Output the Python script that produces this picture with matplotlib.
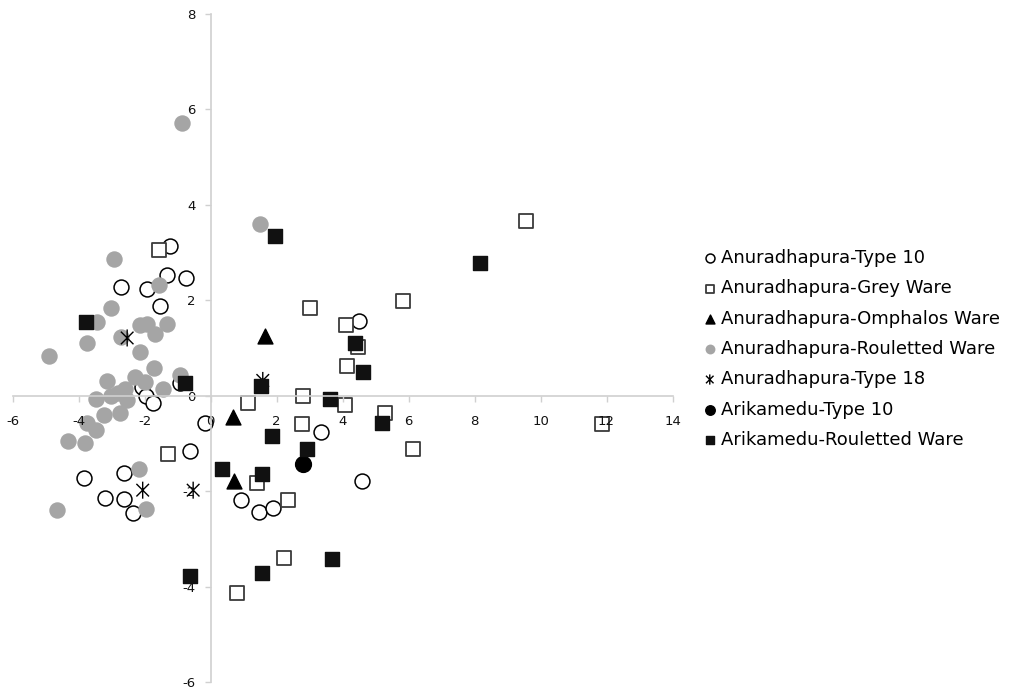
import matplotlib
matplotlib.use('Agg')
import matplotlib.pyplot as plt
from matplotlib.path import Path

plt.rcParams['axes.unicode_minus'] = False

# Anuradhapura-Type 10 (open circles)
t10_x = [-1.23, -1.33, -0.76, -2.72, -1.92, -1.54, -0.93, -2.09, -1.97, -1.76, -0.17, -0.63,
         -3.83, -2.63, -3.20, -2.64, -2.35, 0.92, 1.46, 1.90, 3.36, 4.59, 4.49]
t10_y = [3.14, 2.54, 2.47, 2.28, 2.24, 1.88, 0.26, 0.18, 0.00, -0.15, -0.57, -1.16,
         -1.72, -1.61, -2.14, -2.16, -2.45, -2.19, -2.44, -2.35, -0.76, -1.79, 1.57]

# Anuradhapura-Grey Ware (open squares)
grey_x = [-1.56, 1.12, -1.28, 2.76, 4.07, 5.28, 6.14, 1.42, 2.35, 2.22, 0.81, 3.01, 4.10,
          4.47, 4.14, 5.82, 2.79, 9.55, 11.85]
grey_y = [3.05, -0.16, -1.23, -0.60, -0.20, -0.37, -1.11, -1.83, -2.19, -3.40, -4.14, 1.83, 1.48,
          1.02, 0.63, 1.99, 0.00, 3.67, -0.60]

# Anuradhapura-Omphalos Ware (triangles)
omph_x = [1.65, 0.69, 0.72]
omph_y = [1.25, -0.44, -1.79]

# Anuradhapura-Rouletted Ware (grey dots)
roul_x = [-0.88, 1.49, -2.92, -1.56, -3.03, -3.45, -2.14, -1.94, -1.68, -1.33, -2.73, -3.76,
          -2.15, -4.90, -1.72, -0.94, -3.14, -2.29, -1.98, -1.44, -3.47, -3.01, -2.81, -2.60,
          -2.55, -2.75, -3.24, -3.76, -3.48, -4.32, -3.81, -2.16, -1.96, -4.65]
roul_y = [5.71, 3.60, 2.86, 2.33, 1.83, 1.55, 1.48, 1.50, 1.30, 1.51, 1.23, 1.10,
          0.92, 0.84, 0.58, 0.43, 0.30, 0.39, 0.29, 0.15, -0.07, -0.01, 0.05, 0.15,
          -0.10, -0.37, -0.40, -0.58, -0.71, -0.95, -1.00, -1.54, -2.37, -2.40]

# Anuradhapura-Type 18 (asterisks)
t18_x = [-2.53, 1.58, -2.06, -0.53]
t18_y = [1.21, 0.32, -1.98, -1.98]

# Arikamedu-Type 10 (black dot)
ar10_x = [2.79]
ar10_y = [-1.44]

# Arikamedu-Rouletted Ware (black squares)
arr_x = [-3.79, -0.78, 1.95, 1.52, 4.37, 4.62, 3.62, 5.18, 1.85, 2.91, 0.33, 1.55,
         -0.63, 1.56, 3.69, 8.17]
arr_y = [1.54, 0.27, 3.35, 0.21, 1.11, 0.49, -0.07, -0.57, -0.84, -1.12, -1.54, -1.65,
         -3.77, -3.72, -3.43, 2.79]

x_ticks = [-6, -4, -2, 0, 2, 4, 6, 8, 10, 12, 14]
y_ticks = [-6, -4, -2, 0, 2, 4, 6, 8]

star = Path([(-1, -1), (1, 1), (-1, 1), (1, -1), (0, -1.35), (0, 1.35)],
            [Path.MOVETO, Path.LINETO, Path.MOVETO, Path.LINETO, Path.MOVETO, Path.LINETO])

fig = plt.figure(figsize=(10.12, 6.89), dpi=100)
ax = fig.add_axes([0.01255, 0.0102, 0.652, 0.9695])

s = 115
ax.scatter(t10_x, t10_y, s=s, marker='o', facecolors='white', edgecolors='black',
           linewidths=1.1, label='Anuradhapura-Type 10')
ax.scatter(grey_x, grey_y, s=s, marker='s', facecolors='white', edgecolors='#3a3a3a',
           linewidths=1.3, label='Anuradhapura-Grey Ware')
ax.scatter(omph_x, omph_y, s=s, marker='^', color='black', label='Anuradhapura-Omphalos Ware')
ax.scatter(roul_x, roul_y, s=140, marker='o', color='#a5a5a5', linewidths=0,
           label='Anuradhapura-Rouletted Ware')
ax.scatter(t18_x, t18_y, s=150, marker=star, facecolors='none', edgecolors='black',
           linewidths=1.0, label='Anuradhapura-Type 18')
ax.scatter(ar10_x, ar10_y, s=130, marker='o', color='black', label='Arikamedu-Type 10')
ax.scatter(arr_x, arr_y, s=s, marker='s', color='#111111', label='Arikamedu-Rouletted Ware')

ax.set_xlim(-6, 14)
ax.set_ylim(-6, 8)
ax.set_xticks(x_ticks)
ax.set_yticks(y_ticks)

ax.spines['left'].set_position(('data', 0))
ax.spines['bottom'].set_position(('data', 0))
ax.spines['right'].set_visible(False)
ax.spines['top'].set_visible(False)
for sp in ['left', 'bottom']:
    ax.spines[sp].set_color('#d0d0d0')
    ax.spines[sp].set_linewidth(1.2)
ax.tick_params(axis='both', colors='#d0d0d0', length=4, width=1, labelcolor='#111111',
               labelsize=9.5)
ax.tick_params(axis='x', pad=10)
ax.tick_params(axis='y', pad=7)
ax.patch.set_alpha(0)

leg = fig.legend(loc='center left', bbox_to_anchor=(0.696, 0.4935), frameon=False,
                 fontsize=13, markerscale=0.6, handlelength=0.6, handletextpad=0.3,
                 labelspacing=0.68, borderpad=0, borderaxespad=0, scatterpoints=1)

fig.savefig('out.png', dpi=100)
